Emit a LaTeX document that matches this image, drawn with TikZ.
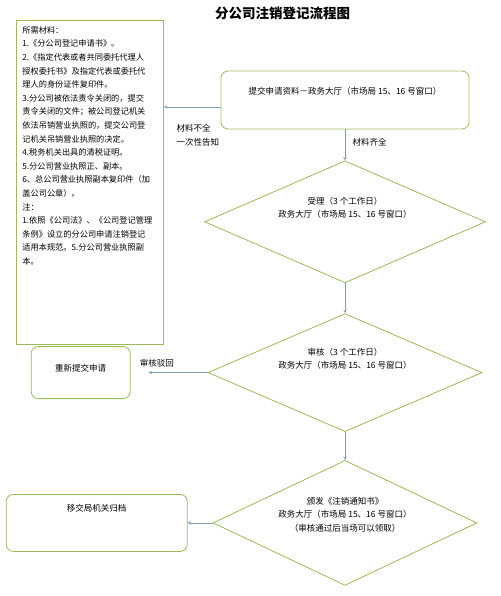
\documentclass[tikz,border=0pt]{standalone}
\usepackage{fontspec}
\setmainfont{Noto Sans CJK SC}
\usetikzlibrary{positioning,shapes.geometric}
\definecolor{boxgreen}{HTML}{9BBB59}
\definecolor{linkblue}{HTML}{7F9DBF}

\begin{document}
\begin{tikzpicture}[x=1pt, y=-1pt,
node distance = 30pt and 60pt,
stepbox/.style={rectangle, rounded corners=7pt, draw=boxgreen, line width=0.8pt, inner ysep=0pt, font=\fontsize{8.5}{13.5}\selectfont},
check/.style={diamond, draw=boxgreen, line width=0.8pt, inner sep=0pt},
words/.style={font=\fontsize{8.5}{13.5}\selectfont, align=center},
flow/.style={-stealth, draw=linkblue, line width=0.6pt}]

\useasboundingbox (0,0) rectangle (500,596);

\node[font=\fontsize{13.5}{16}\selectfont\bfseries] (title) at (282.5,13) {分公司注销登记流程图};

\node[rectangle, draw=boxgreen, line width=0.8pt, anchor=north west, text width=135pt, inner xsep=6pt, inner ysep=0pt, text height=13pt, text depth=311pt, align=left, font=\fontsize{8.2}{13.6}\selectfont] (materials) at (16,20) {所需材料：\\
1.《分公司登记申请书》。\\
2.《指定代表或者共同委托代理人\\
授权委托书》及指定代表或委托代\\
理人的身份证件复印件。\\
3.分公司被依法责令关闭的，提交\\
责令关闭的文件；被公司登记机关\\
依法吊销营业执照的，提交公司登\\
记机关吊销营业执照的决定。\\
4.税务机关出具的清税证明。\\
5.分公司营业执照正、副本。\\
6、总公司营业执照副本复印件（加\\
盖公司公章）。\\
注：\\
1.依照《公司法》、《公司登记管理\\
条例》设立的分公司申请注销登记\\
适用本规范。5.分公司营业执照副\\
本。};

\node[stepbox, minimum width=248pt, text height=24pt, text depth=34pt] (submit) at (345,100) {提交申请资料－政务大厅（市场局 15、16 号窗口）};

\node[check, minimum width=281pt, minimum height=122pt, below=31pt of submit,
  label={[words, yshift=14pt]center:{受理（3 个工作日）\\政务大厅（市场局 15、16 号窗口）}}] (accept) {};
\node[check, minimum width=274pt, minimum height=118pt, below=30pt of accept,
  label={[words, yshift=14pt]center:{审核（3 个工作日）\\政务大厅（市场局 15、16 号窗口）}}] (review) {};
\node[check, minimum width=264pt, minimum height=125pt, below=28pt of review,
  label={[words, yshift=8.5pt]center:{颁发《注销通知书》\\政务大厅（市场局 15、16 号窗口）\\（审核通过后当场可以领取）}}] (issue) {};

\node[stepbox, minimum width=99pt, text height=25pt, text depth=27pt, left=77pt of review] (resubmit) {重新提交申请};
\node[stepbox, minimum width=181pt, text height=17pt, text depth=40pt, left=25pt of issue] (archive) {移交局机关归档};

\draw[flow] ([yshift=-7pt]submit.west) -- ([yshift=-7pt]submit.west -| materials.east)
  node[words, align=left, pos=0.4, below=14pt] (lack) {材料不全\\一次性告知};
\draw[flow] (submit) -- (accept) node[words, pos=0.42, right=4pt] (enough) {材料齐全};
\draw[flow] (accept) -- (review);
\draw[flow] (review) -- (issue);

\coordinate (back) at ([xshift=-59pt]review.west);
\draw[flow] (review.west) -- (back) node[words, pos=0.86, above=2pt] (reject) {审核驳回};
\draw[flow] (issue) -- (archive);
\end{tikzpicture}
\end{document}
